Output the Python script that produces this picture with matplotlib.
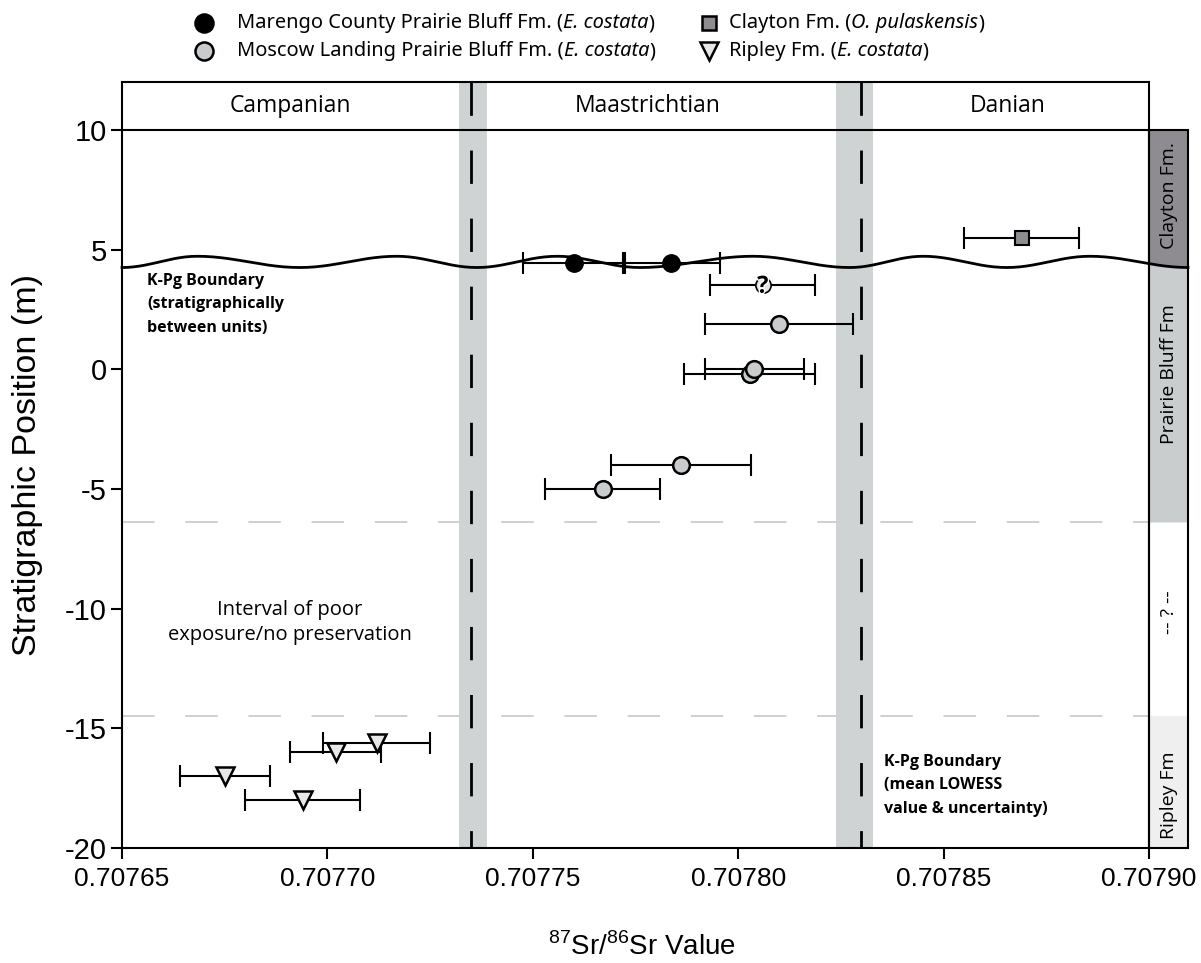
import numpy as np
import matplotlib
matplotlib.use("Agg")
import matplotlib.pyplot as plt
from matplotlib.lines import Line2D
from matplotlib.patches import Polygon, Rectangle
import matplotlib.patheffects as pe

# ---------------------------------------------------------------- data
# 87Sr/86Sr values (x), stratigraphic position in m (y), 2-sigma half-width (err)
marengo_x = [0.7077600, 0.7077837]
marengo_y = [4.45, 4.45]
marengo_err = [0.0000125, 0.0000118]

moscow_x = [0.7078099, 0.7078028, 0.7078039, 0.7077860, 0.7077670]
moscow_y = [1.9, -0.2, 0.0, -4.0, -5.0]
moscow_err = [0.0000180, 0.0000159, 0.0000120, 0.0000170, 0.0000140]

uncertain_x = [0.7078060]
uncertain_y = [3.5]
uncertain_err = [0.0000128]

clayton_x = [0.7078690]
clayton_y = [5.5]
clayton_err = [0.0000140]

ripley_x = [0.7077120, 0.7077020, 0.7076750, 0.7076940]
ripley_y = [-15.6, -16.0, -17.0, -18.0]
ripley_err = [0.0000130, 0.0000110, 0.0000110, 0.0000140]

# K-Pg boundary estimates: mean value and uncertainty band
kpg_means = [0.7077350, 0.7078300]
kpg_bands = [(0.7077320, 0.7077389), (0.7078238, 0.7078328)]

stages = ["Campanian", "Maastrichtian", "Danian"]
stage_x = [0.7076909, 0.7077780, 0.7078657]

x_ticks = [0.70765, 0.70770, 0.70775, 0.70780, 0.70785, 0.70790]
x_tick_labels = ["0.70765", "0.70770", "0.70775", "0.70780", "0.70785", "0.70790"]
y_ticks = [-20, -15, -10, -5, 0, 5, 10]
y_tick_labels = ["-20", "-15", "-10", "-5", "0", "5", "10"]

# stratigraphic column limits (m)
column_top = 10.0
prairie_base = -6.4
ripley_top = -14.5
column_base = -20.0

# undulating K-Pg surface: alternating trough/peak positions along x
wave_nodes = [0.7076500, 0.7076683, 0.7076933, 0.7077169, 0.7077364, 0.7077559,
              0.7077761, 0.7078036, 0.7078272, 0.7078450, 0.7078654, 0.7078856,
              0.7079095]
wave_trough, wave_peak = 4.25, 4.72

# ---------------------------------------------------------------- style
SANS = ["Liberation Sans", "DejaVu Sans"]
MYR = ["Open Sans", "DejaVu Sans"]
NARROW = ["Liberation Sans Narrow", "Noto Sans", "DejaVu Sans"]
BAND = "#cfd3d3"
MOSCOW_FILL = "#c9cccc"
CLAYTON_FILL = "#8e8c91"
RIPLEY_FILL = "#e8e8e8"

X0, X1 = 0.70765, 0.70790
STRIP_R = 0.7079095

fig = plt.figure(figsize=(12.01, 9.63), dpi=100)
ax = fig.add_axes([122 / 1201, 1 - 848 / 963, (1149 - 122) / 1201, (848 - 82) / 963])
ax.set_xlim(X0, X1)
ax.set_ylim(-20, 12)

for s in ax.spines.values():
    s.set_linewidth(1.5)
ax.tick_params(direction="out", length=8, width=1.5, colors="black")
ax.set_xticks(x_ticks)
ax.set_xticklabels(x_tick_labels, fontsize=19, family=SANS)
ax.set_yticks(y_ticks)
ax.set_yticklabels(y_tick_labels, fontsize=21, family=SANS)
ax.tick_params(axis="x", pad=6)
ax.tick_params(axis="y", pad=3)

# stage header box
ax.axhline(column_top, color="black", lw=1.5, zorder=3)
for name, sx in zip(stages, stage_x):
    ax.text(sx, 11.0, name, ha="center", va="center", fontsize=16.5, family=MYR, zorder=6)

# poorly exposed interval limits
for yy in (prairie_base, ripley_top):
    ax.plot([X0, X1], [yy, yy], color="#cccccc", lw=1.3, dashes=(18, 17), zorder=0.5)

# K-Pg boundary uncertainty bands and mean values
for (lo, hi), m in zip(kpg_bands, kpg_means):
    ax.axvspan(lo, hi, color=BAND, lw=0, zorder=1)
    ax.plot([m, m], [12, -20], color="black", lw=2, dashes=(12, 12.5), zorder=2)

# undulating boundary surface
wx, wy = [], []
levels = [wave_trough if i % 2 == 0 else wave_peak for i in range(len(wave_nodes))]
for i in range(len(wave_nodes) - 1):
    t = np.linspace(0, 1, 40)
    wx.append(wave_nodes[i] + (wave_nodes[i + 1] - wave_nodes[i]) * t)
    wy.append(levels[i] + (levels[i + 1] - levels[i]) * (1 - np.cos(np.pi * t)) / 2)
wx = np.concatenate(wx)
wy = np.concatenate(wy)
ax.plot(wx, wy, color="black", lw=2, zorder=3, clip_on=False)

# stratigraphic column to the right of the plot
sx = np.linspace(X1, STRIP_R, 40)
sy = np.interp(sx, wx, wy)
clay = np.column_stack([np.r_[X1, STRIP_R, sx[::-1]], np.r_[column_top, column_top, sy[::-1]]])
ax.add_patch(Polygon(clay, closed=True, fc=CLAYTON_FILL, ec="none", clip_on=False, zorder=2))
prai = np.column_stack([np.r_[sx, STRIP_R, X1], np.r_[sy, prairie_base, prairie_base]])
ax.add_patch(Polygon(prai, closed=True, fc="#c9cdcd", ec="none", clip_on=False, zorder=2))
ax.add_patch(Rectangle((X1, column_base), STRIP_R - X1, ripley_top - column_base,
                       fc="#efefef", ec="none", clip_on=False, zorder=2))
ax.add_patch(Rectangle((X1, column_base), STRIP_R - X1, column_top - column_base,
                       fc="none", ec="black", lw=1.5, clip_on=False, zorder=4))
strip_c = (X1 + STRIP_R) / 2
for label, yy in [("Clayton Fm.", 7.25), ("Prairie Bluff Fm", -0.2),
                  ("-- ? --", -10.15), ("Ripley Fm", -17.8)]:
    ax.text(strip_c, yy, label, rotation=90, ha="center", va="center",
            fontsize=14, family=MYR, zorder=6, clip_on=False)

# measurements with error bars
eb = dict(fmt="none", ecolor="black", elinewidth=1.5, capsize=8, capthick=1.5, zorder=4)
ax.errorbar(marengo_x, marengo_y, xerr=marengo_err, **eb)
ax.errorbar(moscow_x, moscow_y, xerr=moscow_err, **eb)
ax.errorbar(uncertain_x, uncertain_y, xerr=uncertain_err, **eb)
ax.errorbar(clayton_x, clayton_y, xerr=clayton_err, **eb)
ax.errorbar(ripley_x, ripley_y, xerr=ripley_err, **eb)

for x, y in zip(moscow_x, moscow_y):
    ax.plot(x, y, "o", ms=12, mfc=MOSCOW_FILL, mec="black", mew=1.8, zorder=5)
ax.plot(marengo_x, marengo_y, "o", ms=12.5, mfc="black", mec="black", zorder=5)
ax.plot(uncertain_x, uncertain_y, "o", ms=11, mfc="#e6e6e6", mec="black", mew=1.2, zorder=5)
ax.text(uncertain_x[0], uncertain_y[0] - 0.05, "?", ha="center", va="center",
        fontsize=17, fontweight="bold", family=MYR, zorder=6,
        path_effects=[pe.withStroke(linewidth=2, foreground="white")])
ax.plot(clayton_x, clayton_y, "s", ms=10, mfc=CLAYTON_FILL, mec="black", mew=1.5, zorder=5)
for x, y in zip(ripley_x, ripley_y):
    ax.plot(x, y, "v", ms=13, mfc=RIPLEY_FILL, mec="black", mew=1.8, zorder=5)

# annotations
for txt, yy in zip(["K-Pg Boundary", "(stratigraphically", "between units)"], [3.70, 2.74, 1.74]):
    ax.text(0.7076561, yy, txt, ha="left", va="center", fontsize=11.5,
            fontweight="bold", family=MYR, zorder=6)
for txt, yy in zip(["K-Pg Boundary", "(mean LOWESS", "value & uncertainty)"], [-16.41, -17.37, -18.37]):
    ax.text(0.7078355, yy, txt, ha="left", va="center", fontsize=11.5,
            fontweight="bold", family=MYR, zorder=6)
for txt, yy in zip(["Interval of poor", "exposure/no preservation"], [-10.07, -11.11]):
    ax.text(0.7076909, yy, txt, ha="center", va="center", fontsize=14.5, family=MYR, zorder=6)

# axis titles
plt.rcParams["mathtext.fontset"] = "custom"
plt.rcParams["mathtext.rm"] = "Liberation Sans"
fig.text(642 / 1201, 1 - 947 / 963, r"$^{87}$Sr/$^{86}$Sr Value", ha="center", va="center",
         fontsize=20, family=SANS)
fig.text(28 / 1201, 1 - 465 / 963, "Stratigraphic Position (m)", rotation=90,
         ha="center", va="center", fontsize=24.5, family=SANS)


# legend above the plot
def legend_entry(mx, my, tx, marker, ms, fc, pieces):
    fig.add_artist(Line2D([mx], [my], marker=marker, ms=ms, mfc=fc, mec="black",
                          mew=1.8, transform=fig.transFigure, ls="none"))
    prev = None
    for txt, style in pieces:
        kw = dict(fontsize=14.4, family=NARROW, fontstretch="condensed",
                  style=style, annotation_clip=False)
        if prev is None:
            prev = ax.annotate(txt, xy=(tx, my), xycoords="figure fraction",
                               ha="left", va="center", **kw)
        else:
            prev = ax.annotate(txt, xy=(1, 0), xycoords=prev, ha="left", va="bottom", **kw)


r1, r2 = 1 - 23 / 963, 1 - 51 / 963
c1m, c1t = 204 / 1201, 237 / 1201
c2m, c2t = 709 / 1201, 729 / 1201
legend_entry(c1m, r1, c1t, "o", 13, "black",
             [("Marengo County Prairie Bluff Fm. (", "normal"), ("E. costata", "italic"), (")", "normal")])
legend_entry(c1m, r2, c1t, "o", 13, MOSCOW_FILL,
             [("Moscow Landing Prairie Bluff Fm. (", "normal"), ("E. costata", "italic"), (")", "normal")])
legend_entry(c2m, r1, c2t, "s", 10, CLAYTON_FILL,
             [("Clayton Fm. (", "normal"), ("O. pulaskensis", "italic"), (")", "normal")])
legend_entry(c2m, r2, c2t, "v", 13, RIPLEY_FILL,
             [("Ripley Fm. (", "normal"), ("E. costata", "italic"), (")", "normal")])

fig.savefig("out.png", dpi=100)
